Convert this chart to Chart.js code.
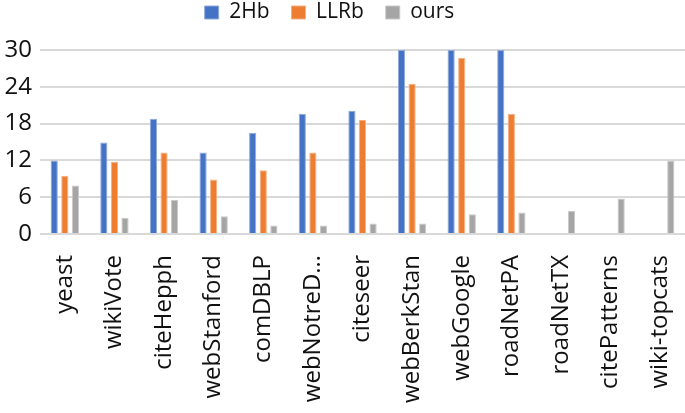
<!DOCTYPE html>
<html>
<head>
<meta charset="utf-8">
<script src="https://cdn.jsdelivr.net/npm/chart.js@4/dist/chart.umd.min.js"></script>
<style>
html,body{margin:0;padding:0;background:#fff;}
#wrap{width:685px;height:413px;position:relative;}
</style>
</head>
<body>
<div id="wrap"><canvas id="c" width="685" height="413"></canvas></div>
<script>
const categories = ["yeast","wikiVote","citeHepph","webStanford","comDBLP","webNotreD\u2026","citeseer","webBerkStan","webGoogle","roadNetPA","roadNetTX","citePatterns","wiki-topcats"];
const seriesNames = ["2Hb","LLRb","ours"];
const values2Hb  = [12.0,14.9,18.8,13.3,16.5,19.6,20.1,30,30,30,null,null,null];
const valuesLLRb = [9.5,11.8,13.3,8.9,10.4,13.3,18.6,24.5,28.7,19.6,null,null,null];
const valuesOurs = [7.9,2.65,5.6,2.9,1.4,1.4,1.7,1.7,3.2,3.5,3.75,5.8,12.0];
const yTicks = [0,6,12,18,24,30];

const colors = ["#4472C4","#ED7D31","#A5A5A5"];
const borders = ["#8FAADC","#F4B183","#C9C9C9"];
const font = "'Open Sans', 'Noto Sans', sans-serif";

const legendFix = {
  id: 'legendFix',
  afterInit(chart) {
    const lg = chart.legend;
    const orig = lg.fit;
    lg.fit = function() { orig.call(this); this.height = 70; };
  },
  afterLayout(chart) {
    const lg = chart.legend;
    lg.left -= 13; lg.right -= 13;
  }
};

new Chart(document.getElementById('c'), {
  type: 'bar',
  data: {
    labels: categories,
    datasets: [values2Hb, valuesLLRb, valuesOurs].map((d,i)=>({
      label: seriesNames[i],
      data: d,
      backgroundColor: colors[i],
      borderColor: borders[i],
      borderWidth: 1,
      categoryPercentage: 0.64,
      barPercentage: 0.68
    }))
  },
  plugins: [legendFix],
  options: {
    responsive: false,
    animation: false,
    layout: {padding: {left: 0, right: 0, top: -20, bottom: 0}},
    plugins: {
      tooltip: {enabled: false},
      legend: {
        position: 'top',
        labels: {
          font: {family: font, size: 21},
          color: '#111',
          boxWidth: 14,
          boxHeight: 13,
          padding: 22
        }
      }
    },
    scales: {
      x: {
        grid: {display: false, drawTicks: false},
        border: {display: false},
        ticks: {
          color: '#111',
          font: {family: font, size: 24},
          minRotation: 90,
          maxRotation: 90,
          autoSkip: false,
          padding: 21
        },
        afterFit: s => { s.height = 179; s.paddingLeft = 0; s.paddingRight = 0; }
      },
      y: {
        min: 0, max: 30,
        afterBuildTicks: s => { s.ticks = yTicks.map(v=>({value:v})); },
        grid: {color: '#D9D9D9', lineWidth: 2, drawTicks: false},
        border: {display: false},
        ticks: {
          color: '#111',
          font: {family: font, size: 24},
          padding: 8
        },
        afterFit: s => { s.width = 40; }
      }
    }
  }
});
</script>
</body>
</html>
